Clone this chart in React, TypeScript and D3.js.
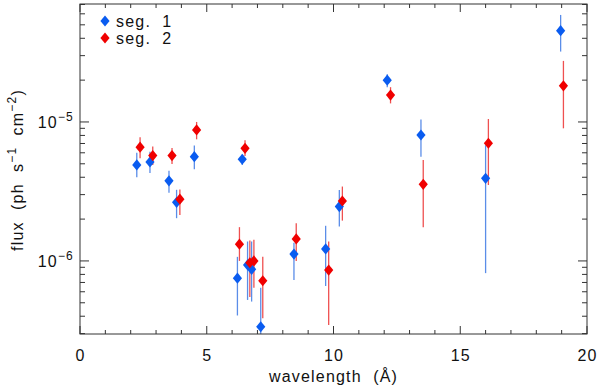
import React from "react";
import * as d3 from "d3";

const seg1X = [2.24, 2.76, 3.51, 3.81, 4.51, 6.40, 6.21, 6.61, 6.77, 7.13, 8.44, 9.69, 10.23, 12.12, 13.45, 16.0, 18.96];
const seg1Y = [4.91e-6, 5.15e-6, 3.77e-6, 2.64e-6, 5.63e-6, 5.39e-6, 7.52e-7, 9.36e-7, 8.7e-7, 3.36e-7, 1.12e-6, 1.22e-6, 2.46e-6, 2.0e-5, 8.06e-6, 3.93e-6, 4.54e-5];
const seg1Lo = [4.0e-6, 4.3e-6, 3.1e-6, 2.03e-6, 4.57e-6, 4.9e-6, 4.05e-7, 5.24e-7, 5.1e-7, 2.0e-7, 7.3e-7, 6.6e-7, 1.77e-6, 1.78e-5, 5.63e-6, 8.17e-7, 3.21e-5];
const seg1Hi = [6.0e-6, 6.1e-6, 4.46e-6, 3.25e-6, 6.76e-6, 5.8e-6, 1.07e-6, 1.38e-6, 1.38e-6, 6.4e-7, 1.35e-6, 1.79e-6, 3.24e-6, 2.2e-5, 1.04e-5, 6.8e-6, 5.89e-5];

const seg2X = [2.37, 2.87, 3.63, 4.60, 6.51, 3.94, 6.29, 6.70, 6.86, 7.21, 8.53, 9.81, 10.35, 12.25, 13.54, 16.11, 19.07];
const seg2Y = [6.58e-6, 5.73e-6, 5.73e-6, 8.76e-6, 6.46e-6, 2.78e-6, 1.32e-6, 9.7e-7, 1.0e-6, 7.2e-7, 1.44e-6, 8.6e-7, 2.7e-6, 1.56e-5, 3.56e-6, 7.03e-6, 1.82e-5];
const seg2Lo = [5.48e-6, 4.9e-6, 4.99e-6, 7.5e-6, 5.7e-6, 2.14e-6, 1.0e-6, 5.5e-7, 6.4e-7, 3.87e-7, 1.0e-6, 3.46e-7, 1.95e-6, 1.36e-5, 1.75e-6, 3.52e-6, 9.0e-6];
const seg2Hi = [7.76e-6, 6.65e-6, 6.5e-6, 1.0e-5, 7.4e-6, 3.27e-6, 1.75e-6, 1.4e-6, 1.42e-6, 1.07e-6, 1.87e-6, 1.38e-6, 3.43e-6, 1.78e-5, 5.33e-6, 1.05e-5, 2.75e-5];

const xMajor = [0, 5, 10, 15, 20];
const xMinor = d3.range(0, 21, 1);
const yMajor = [1e-6, 1e-5];
const yMinorMant = [2, 3, 4, 5, 6, 7, 8, 9];
const yDecades = [1e-7, 1e-6, 1e-5];

const seriesNames = ["seg.  1", "seg.  2"];
const markerColors = ["#0a5cf0", "#f00000"];
const barColors = ["#5b8de8", "#ef5050"];

const W = 600, H = 389;
const L = 80, R = 587, T = 4, B = 334;
const FONT = "'Liberation Sans', Arial, sans-serif";
const LS = 1.2;

function Diamond({ cx, cy, color }: { cx: number; cy: number; color: string }) {
  const hw = 4.6, hh = 5.6;
  return <path d={`M${cx},${cy - hh}L${cx + hw},${cy}L${cx},${cy + hh}L${cx - hw},${cy}Z`} fill={color} />;
}

export default function App() {
  const x = d3.scaleLinear().domain([0, 20]).range([L, R]);
  const y = d3.scaleLog().domain([2.98e-7, 7.06e-5]).range([B, T]);
  const [yMin, yMax] = y.domain();
  const yMinorVals: number[] = [];
  yDecades.forEach((d) => yMinorMant.forEach((m) => {
    const v = d * m;
    if (v >= yMin && v <= yMax) yMinorVals.push(v);
  }));

  const series = [
    { X: seg1X, Y: seg1Y, Lo: seg1Lo, Hi: seg1Hi },
    { X: seg2X, Y: seg2Y, Lo: seg2Lo, Hi: seg2Hi },
  ];
  const axisColor = "#333";
  const txt = { fontFamily: FONT, fontSize: 16, fill: "#111", letterSpacing: LS, style: { whiteSpace: "pre" as const } };

  return (
    <svg width={W} height={H} style={{ position: "absolute", left: 0, top: 0, background: "#fff" }}>
      <defs>
        <clipPath id="plotclip">
          <rect x={L} y={T} width={R - L} height={B - T} />
        </clipPath>
      </defs>
      <rect x={0} y={0} width={W} height={H} fill="#fff" />
      <g clipPath="url(#plotclip)">
        {series.map((s, si) => (
          <g key={si}>
            {s.X.map((xv, i) => (
              <line key={"e" + i} x1={x(xv)} x2={x(xv)} y1={y(Math.max(s.Lo[i], 1e-8))} y2={y(s.Hi[i])} stroke={barColors[si]} strokeWidth={1.3} />
            ))}
          </g>
        ))}
        {series.map((s, si) => (
          <g key={"m" + si}>
            {s.X.map((xv, i) => (
              <Diamond key={i} cx={x(xv)} cy={y(s.Y[i])} color={markerColors[si]} />
            ))}
          </g>
        ))}
      </g>
      <rect x={L} y={T} width={R - L} height={B - T} fill="none" stroke={axisColor} strokeWidth={1} />
      {xMinor.map((v) => {
        const major = xMajor.includes(v);
        const len = major ? 8 : 4;
        return (
          <g key={"xt" + v}>
            <line x1={x(v)} x2={x(v)} y1={B} y2={B - len} stroke={axisColor} />
            <line x1={x(v)} x2={x(v)} y1={T} y2={T + len} stroke={axisColor} />
          </g>
        );
      })}
      {xMajor.map((v) => (
        <text key={"xl" + v} x={x(v) + LS / 2} y={361} textAnchor="middle" {...txt}>{v}</text>
      ))}
      {yMajor.map((v) => (
        <g key={"ym" + v}>
          <line x1={L} x2={L + 9} y1={y(v)} y2={y(v)} stroke={axisColor} />
          <line x1={R} x2={R - 9} y1={y(v)} y2={y(v)} stroke={axisColor} />
          <text x={74} y={y(v) + 6} textAnchor="end" {...txt}>
            10<tspan dy={-7} fontSize={12}>{"\u2212" + Math.round(-Math.log10(v))}</tspan>
          </text>
        </g>
      ))}
      {yMinorVals.map((v, i) => (
        <g key={"yn" + i}>
          <line x1={L} x2={L + 5} y1={y(v)} y2={y(v)} stroke={axisColor} />
          <line x1={R} x2={R - 5} y1={y(v)} y2={y(v)} stroke={axisColor} />
        </g>
      ))}
      <text x={(L + R) / 2} y={382} textAnchor="middle" {...txt}>{"wavelength  (Å)"}</text>
      <text transform={`translate(23,170) rotate(-90)`} textAnchor="middle" {...txt}>
        {"flux  (ph  s"}<tspan dy={-7} fontSize={12}>{"\u22121"}</tspan><tspan dy={7}>{"  cm"}</tspan><tspan dy={-7} fontSize={12}>{"\u22122"}</tspan><tspan dy={7}>)</tspan>
      </text>
      {seriesNames.map((n, i) => (
        <g key={"lg" + i}>
          <Diamond cx={105} cy={21 + i * 17} color={markerColors[i]} />
          <text x={116} y={27 + i * 17} {...txt}>{n}</text>
        </g>
      ))}
    </svg>
  );
}
